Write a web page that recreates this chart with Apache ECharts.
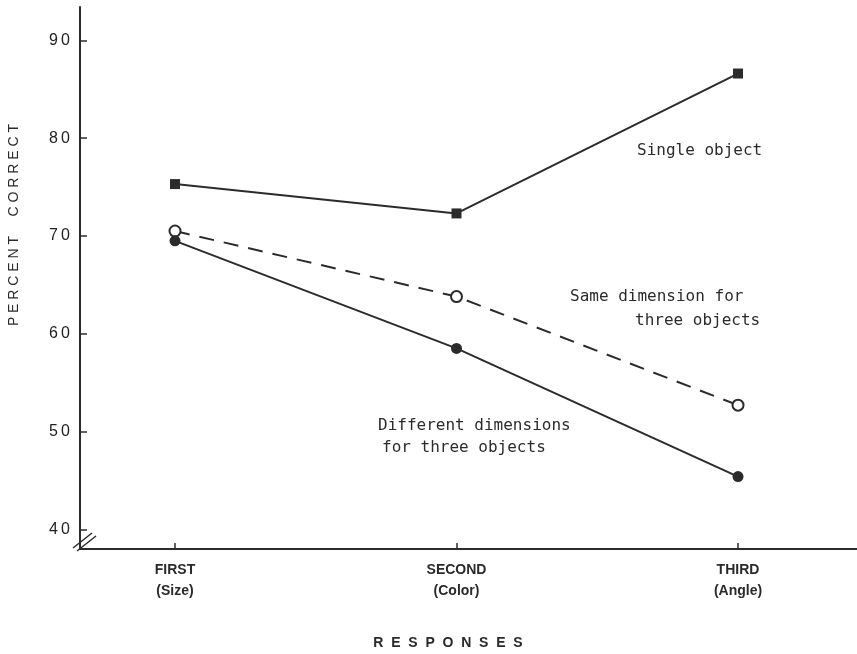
<!DOCTYPE html>
<html>
<head>
<meta charset="utf-8">
<script src="https://cdn.jsdelivr.net/npm/echarts@6/dist/echarts.min.js"></script>
<style>
  html, body { margin: 0; padding: 0; background: #fff; }
  #chart { width: 857px; height: 654px; }
</style>
</head>
<body>
<div id="chart"></div>
<script>
const responses = ['FIRST', 'SECOND', 'THIRD']
const dimensions = ['(Size)', '(Color)', '(Angle)']
const yTicks = [40, 50, 60, 70, 80, 90]

const singleObject = [75.3, 72.3, 86.6]
const sameDimension = [70.5, 63.8, 52.7]
const differentDimensions = [69.5, 58.5, 45.4]

const ink = '#2b2b2b'
const letterFont = 'DejaVu Sans Mono'
const labelFont = 'Liberation Sans'

// x is a value axis so the categories sit where the original puts them
function pairs(values) {
  return values.map((v, i) => [i, v])
}

const chart = echarts.init(document.getElementById('chart'))

chart.setOption({
  animation: false,
  backgroundColor: '#fff',
  grid: { left: 80, right: 0, top: 7, bottom: 105 },
  xAxis: {
    type: 'value',
    min: -0.3375,
    max: 2.4227,
    splitLine: { show: false },
    axisLine: { onZero: false, lineStyle: { color: ink, width: 2 } },
    axisTick: {
      customValues: [0, 1, 2],
      inside: true,
      length: 6,
      lineStyle: { color: ink, width: 1.5 }
    },
    axisLabel: {
      customValues: [0, 1, 2],
      margin: 11,
      color: '#2a2a2a',
      fontFamily: labelFont,
      fontWeight: 'bold',
      fontSize: 14,
      lineHeight: 21,
      formatter: v => responses[v] + '\n' + dimensions[v]
    }
  },
  yAxis: {
    type: 'value',
    min: 38,
    max: 93.4,
    splitLine: { show: false },
    axisLine: { onZero: false, lineStyle: { color: ink, width: 2 } },
    axisTick: {
      customValues: yTicks,
      inside: true,
      length: 7,
      lineStyle: { color: ink, width: 1.5 }
    },
    axisLabel: {
      customValues: yTicks,
      margin: 10,
      color: '#222',
      fontFamily: labelFont,
      fontSize: 16,
      formatter: v => String(v).split('').join('\u2009')
    }
  },
  series: [
    {
      name: 'Single object',
      type: 'line',
      data: pairs(singleObject),
      symbol: 'rect',
      symbolSize: 10,
      itemStyle: { color: ink },
      lineStyle: { color: ink, width: 2 }
    },
    {
      name: 'Same dimension for three objects',
      type: 'line',
      data: pairs(sameDimension),
      symbol: 'emptyCircle',
      symbolSize: 11,
      itemStyle: { color: ink, borderWidth: 1.5 },
      lineStyle: { color: ink, width: 2, type: [15, 10] }
    },
    {
      name: 'Different dimensions for three objects',
      type: 'line',
      data: pairs(differentDimensions),
      symbol: 'circle',
      symbolSize: 11,
      itemStyle: { color: ink },
      lineStyle: { color: ink, width: 2 }
    }
  ],
  graphic: [
    // axis break on the y axis
    { type: 'line', shape: { x1: 73, y1: 548, x2: 92, y2: 533 }, style: { stroke: ink, lineWidth: 1.5 } },
    { type: 'line', shape: { x1: 77, y1: 551, x2: 96, y2: 536 }, style: { stroke: ink, lineWidth: 1.5 } },
    // series notes
    { type: 'text', left: 637, top: 143, style: { text: 'Single object', font: '16px "' + letterFont + '"', fill: ink } },
    { type: 'text', left: 570, top: 289, style: { text: 'Same dimension for', font: '16px "' + letterFont + '"', fill: ink } },
    { type: 'text', left: 635, top: 313, style: { text: 'three objects', font: '16px "' + letterFont + '"', fill: ink } },
    { type: 'text', left: 378, top: 418, style: { text: 'Different dimensions', font: '16px "' + letterFont + '"', fill: ink } },
    { type: 'text', left: 382, top: 440, style: { text: 'for three objects', font: '16px "' + letterFont + '"', fill: ink } },
    // axis titles
    {
      type: 'text', x: 448, y: 643,
      style: { text: 'R  E  S  P  O  N  S  E  S', font: 'bold 14px "' + labelFont + '"', fill: '#2a2a2a', align: 'center', verticalAlign: 'middle' }
    },
    {
      type: 'text', x: 14, y: 225, rotation: Math.PI / 2,
      style: { text: 'P E R C E N T     C O R R E C T', font: '14px "' + labelFont + '"', fill: '#2a2a2a', align: 'center', verticalAlign: 'middle' }
    }
  ]
})
</script>
</body>
</html>
